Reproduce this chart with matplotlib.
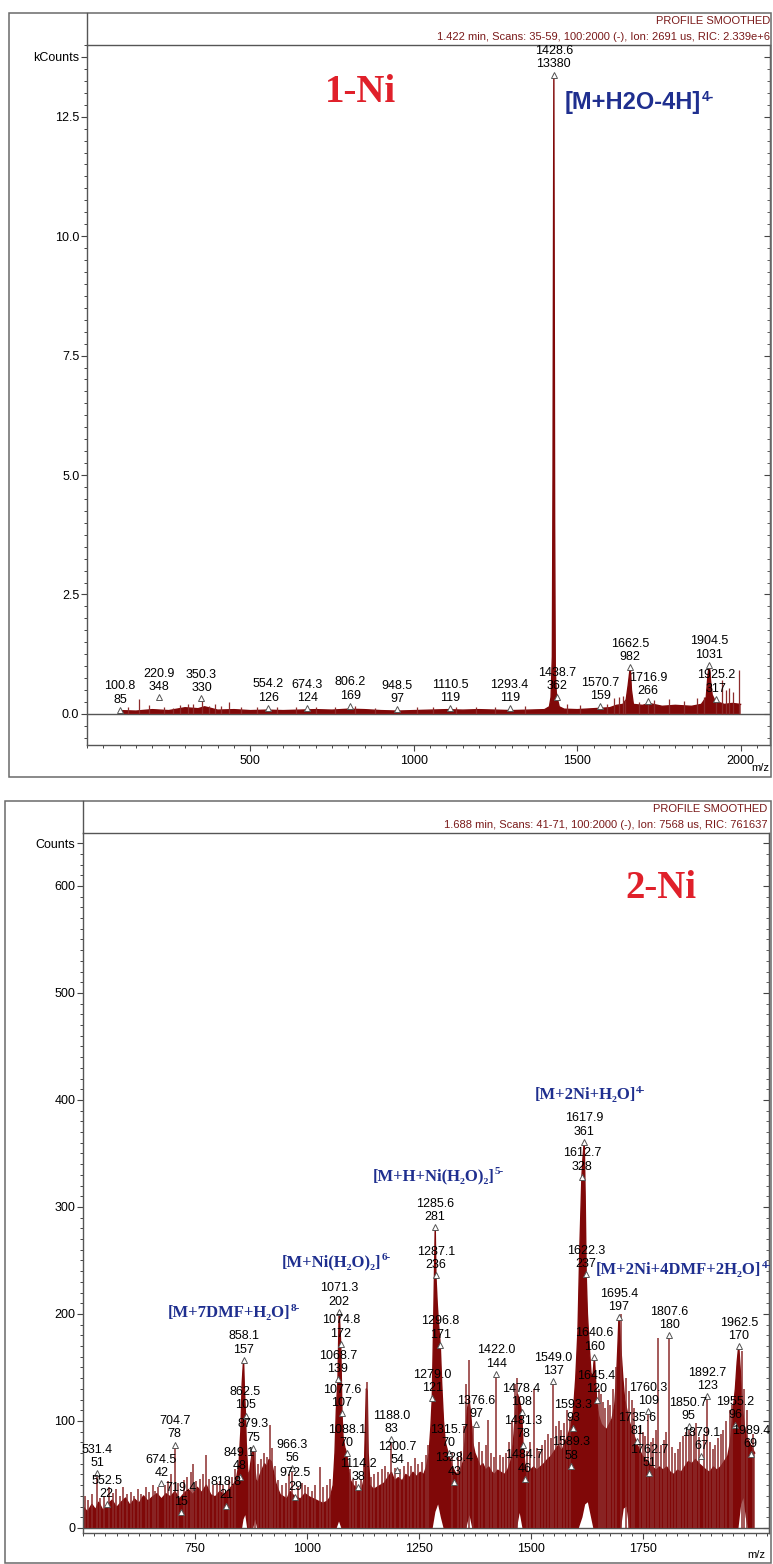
import numpy as np
import matplotlib.pyplot as plt
from matplotlib.patches import Rectangle
from matplotlib.lines import Line2D
from matplotlib.text import Annotation, Text
from matplotlib.ticker import FixedLocator, MultipleLocator

W, H = 773, 1564
SANS = ['Liberation Sans Narrow', 'Liberation Sans', 'DejaVu Sans']
SERIF = ['Liberation Serif', 'DejaVu Serif']
SPEC = '#800808'
SPIKE = '#8c2c2c'
HEAD = '#7a1a1a'
BLUE = '#1f2f8f'

# ---- 1-Ni spectrum (kCounts) ----
env1_mz = [100, 150, 200, 250, 300, 340, 360, 400, 450, 500, 550, 600, 650, 700, 750, 800,
           850, 900, 950, 1000, 1050, 1100, 1150, 1200, 1250, 1300, 1350, 1400, 1415, 1420,
           1424, 1426, 1428.6, 1431, 1433, 1436, 1440, 1445, 1460, 1500, 1550, 1600, 1620,
           1640, 1650, 1656, 1662.5, 1666, 1672, 1700, 1720, 1760, 1800, 1850, 1880, 1895,
           1900, 1904.5, 1908, 1913, 1920, 1930, 1950, 1975, 2000]
env1_k = [0.07, 0.06, 0.09, 0.07, 0.13, 0.11, 0.15, 0.08, 0.09, 0.07, 0.08, 0.07, 0.08, 0.09,
          0.08, 0.10, 0.09, 0.07, 0.06, 0.07, 0.08, 0.09, 0.08, 0.09, 0.08, 0.07, 0.08, 0.09,
          0.15, 0.35, 1.2, 5.0, 13.38, 4.0, 0.9, 0.45, 0.3, 0.15, 0.10, 0.09, 0.11, 0.13, 0.18,
          0.20, 0.30, 0.60, 0.98, 0.50, 0.20, 0.18, 0.22, 0.16, 0.18, 0.16, 0.20, 0.35, 0.80,
          1.03, 0.70, 0.40, 0.30, 0.25, 0.20, 0.22, 0.20]
spk1_mz = [125, 159, 190, 236, 262, 285, 310, 324, 352, 372, 391, 410, 434, 470, 520, 580, 640,
           700, 760, 820, 880, 1010, 1060, 1130, 1190, 1250, 1340, 1470, 1510, 1590, 1612, 1628,
           1640, 1645, 1690, 1716.9, 1735, 1780, 1826, 1866, 1888, 1925, 1942, 1955, 1965, 1978,
           1995]
spk1_k = [0.15, 0.31, 0.18, 0.15, 0.12, 0.18, 0.20, 0.20, 0.33, 0.17, 0.20, 0.16, 0.26, 0.15,
          0.14, 0.14, 0.14, 0.14, 0.15, 0.17, 0.13, 0.14, 0.15, 0.14, 0.15, 0.14, 0.16, 0.20,
          0.18, 0.20, 0.33, 0.36, 0.38, 0.30, 0.25, 0.28, 0.30, 0.32, 0.28, 0.33, 0.35, 0.35,
          0.72, 0.50, 0.55, 0.45, 0.92]
lab1_mz = [100.8, 220.9, 350.3, 554.2, 674.3, 806.2, 948.5, 1110.5, 1293.4, 1428.6, 1438.7,
           1570.7, 1662.5, 1716.9, 1904.5, 1925.2]
lab1_counts = [85, 348, 330, 126, 124, 169, 97, 119, 119, 13380, 362, 159, 982, 266, 1031, 317]

# ---- 2-Ni spectrum (Counts) ----
env2_mz = [500, 510, 520, 528, 535, 545, 555, 565, 575, 585, 595, 605, 615, 625, 635, 645, 655,
           665, 675, 685, 695, 705, 715, 725, 735, 745, 755, 765, 775, 785, 795, 805, 815, 825,
           835, 842, 848, 852, 855, 858.1, 860, 862.5, 864, 867, 870, 874, 879.3, 882, 886, 890,
           895, 900, 905, 910, 915, 920, 925, 930, 935, 940, 948, 955, 962, 968, 975, 985, 995,
           1005, 1015, 1025, 1035, 1045, 1052, 1058, 1062, 1065, 1068.7, 1071.3, 1074.8, 1077.6,
           1080, 1084, 1088.1, 1092, 1097, 1103, 1110, 1116, 1122, 1127, 1130, 1132, 1134, 1136,
           1140, 1148, 1156, 1164, 1172, 1180, 1188, 1195, 1203, 1212, 1220, 1228, 1236, 1244,
           1252, 1260, 1266, 1272, 1276, 1279.0, 1282, 1285.6, 1287.1, 1290, 1293, 1296.8, 1300,
           1304, 1308, 1313, 1318, 1324, 1330, 1336, 1342, 1348, 1353, 1357, 1361, 1365, 1369,
           1374, 1380, 1386, 1392, 1398, 1405, 1412, 1418, 1425, 1432, 1440, 1447, 1454, 1460,
           1465, 1469, 1473, 1478.4, 1481.3, 1486, 1492, 1498, 1505, 1512, 1520, 1528, 1536,
           1544, 1552, 1560, 1568, 1575, 1582, 1588, 1594, 1599, 1604, 1608, 1612.7, 1615,
           1617.9, 1620, 1622.3, 1625, 1629, 1633, 1637, 1640.6, 1645.4, 1650, 1656, 1662, 1668,
           1674, 1680, 1686, 1690, 1693, 1695.4, 1700, 1704, 1708, 1713, 1718, 1724, 1730, 1736,
           1742, 1748, 1755, 1762, 1770, 1778, 1786, 1794, 1802, 1810, 1818, 1826, 1834, 1842,
           1850, 1858, 1866, 1874, 1882, 1890, 1898, 1906, 1914, 1922, 1930, 1938, 1944, 1950,
           1955, 1959, 1962.5, 1967, 1971, 1975, 1980, 1986, 1992, 1998]
env2_c = [20, 15, 22, 17, 24, 16, 22, 26, 19, 24, 28, 21, 27, 23, 30, 25, 29, 32, 27, 32, 29,
          34, 27, 32, 36, 31, 38, 33, 40, 31, 29, 34, 31, 36, 40, 45, 60, 90, 135, 157, 130, 105,
          80, 55, 45, 60, 75, 60, 45, 42, 50, 55, 60, 57, 64, 62, 52, 42, 36, 31, 29, 27, 34, 31,
          29, 27, 32, 29, 27, 25, 23, 25, 29, 40, 70, 110, 139, 202, 172, 107, 85, 75, 70, 55, 44,
          40, 37, 34, 36, 46, 95, 130, 128, 70, 40, 36, 38, 40, 42, 47, 52, 44, 47, 44, 50, 47,
          52, 48, 52, 50, 57, 70, 95, 121, 190, 281, 236, 210, 190, 171, 135, 100, 80, 72, 65, 57,
          52, 50, 54, 62, 85, 110, 120, 105, 80, 70, 64, 57, 60, 54, 57, 52, 50, 54, 52, 50, 54,
          62, 80, 110, 125, 120, 108, 78, 57, 52, 54, 57, 54, 57, 60, 64, 67, 72, 77, 72, 80, 87,
          95, 110, 140, 185, 260, 328, 345, 361, 310, 237, 200, 170, 145, 140, 160, 120, 105, 97,
          94, 92, 97, 102, 115, 140, 170, 197, 165, 140, 120, 110, 100, 92, 85, 78, 72, 67, 64,
          60, 57, 54, 57, 54, 57, 52, 50, 54, 52, 57, 62, 60, 64, 60, 57, 54, 52, 57, 54, 57, 62,
          67, 80, 110, 130, 155, 170, 140, 110, 95, 85, 80, 75, 70]
# floor of the trace, lifted under the strongest peaks
flr2_mz = [500, 855, 858, 862, 866, 880, 884, 888, 1066, 1071, 1076, 1280, 1286, 1292, 1298,
           1304, 1355, 1362, 1368, 1468, 1474, 1480, 1606, 1614, 1620, 1626, 1632, 1638, 1700,
           1706, 1712, 1718, 1962, 1968, 1973, 1978, 1983, 1998]
flr2_c = [0, 0, 8, 12, 0, 0, 8, 0, 0, 6, 0, 0, 15, 22, 10, 0, 0, 12, 0, 0, 14, 0, 0, 10, 22, 24,
          12, 0, 0, 18, 20, 0, 0, 22, 28, 10, 0, 0]
spk2_mz = [505, 512, 520, 531.4, 538, 547, 558, 566, 574, 582, 590, 598, 606, 614, 622, 630,
           640, 648, 656, 661, 668, 682, 690, 697, 704.7, 712, 726, 733, 740, 746, 752, 760, 768,
           775, 782, 790, 798, 805, 812, 825, 832, 840, 870, 876, 884, 890, 898, 904, 910, 917,
           922, 928, 936, 944, 952, 960, 966.3, 980, 988, 995, 1002, 1010, 1018, 1029, 1036,
           1044, 1052, 1095, 1102, 1108, 1120, 1126, 1133, 1142, 1150, 1158, 1166, 1174, 1181,
           1188.0, 1195, 1208, 1216, 1224, 1232, 1240, 1248, 1256, 1264, 1270, 1322, 1336, 1342,
           1349, 1355, 1362, 1370, 1384, 1391, 1398, 1404, 1411, 1417, 1422.0, 1430, 1437, 1444,
           1450, 1456, 1463, 1468, 1490, 1496, 1505, 1512, 1518, 1524, 1530, 1537, 1543, 1549.0,
           1555, 1561, 1567, 1573, 1580, 1586, 1650, 1655, 1660, 1665, 1670, 1676, 1682, 1688,
           1699, 1712, 1718, 1724, 1730, 1742, 1748, 1754, 1760.3, 1766, 1772, 1777, 1783, 1790,
           1796, 1801, 1807.6, 1814, 1820, 1826, 1832, 1838, 1844, 1850.7, 1856, 1862, 1867,
           1873, 1886, 1892.7, 1898, 1904, 1910, 1916, 1922, 1928, 1935, 1942, 1948, 1969, 1975,
           1982, 1995]
spk2_c = [30, 26, 32, 51, 28, 30, 38, 33, 36, 30, 38, 32, 34, 30, 36, 32, 38, 34, 40, 35, 38,
          40, 44, 50, 78, 42, 45, 48, 52, 60, 44, 46, 50, 68, 46, 40, 42, 44, 40, 45, 48, 55, 52,
          70, 72, 60, 64, 70, 66, 96, 75, 58, 45, 40, 42, 50, 56, 38, 42, 40, 38, 35, 40, 57, 38,
          40, 46, 55, 46, 44, 46, 60, 136, 48, 50, 52, 55, 58, 52, 83, 56, 55, 58, 62, 58, 65, 60,
          62, 68, 78, 70, 66, 72, 95, 135, 157, 95, 80, 72, 78, 101, 70, 66, 144, 68, 66, 70, 80,
          100, 135, 140, 72, 80, 130, 75, 72, 78, 82, 88, 84, 137, 95, 100, 92, 98, 110, 104, 130,
          125, 118, 112, 120, 115, 130, 150, 200, 140, 128, 120, 112, 95, 90, 86, 109, 80, 84, 92,
          178, 78, 82, 90, 180, 76, 70, 74, 80, 86, 90, 95, 88, 92, 98, 85, 88, 123, 80, 74, 78,
          84, 88, 92, 100, 110, 115, 165, 130, 110, 88]
lab2_mz = [531.4, 552.5, 674.5, 704.7, 719.4, 818.8, 849.1, 858.1, 862.5, 879.3, 966.3, 972.5,
           1071.3, 1074.8, 1068.7, 1077.6, 1088.1, 1114.2, 1188.0, 1200.7, 1285.6, 1287.1,
           1296.8, 1279.0, 1315.7, 1328.4, 1376.6, 1422.0, 1478.4, 1481.3, 1484.7, 1549.0,
           1593.3, 1589.3, 1617.9, 1612.7, 1622.3, 1640.6, 1645.4, 1695.4, 1735.6, 1760.3,
           1762.7, 1807.6, 1850.7, 1879.1, 1892.7, 1962.5, 1955.2, 1989.4]
lab2_counts = [51, 22, 42, 78, 15, 21, 48, 157, 105, 75, 56, 29, 202, 172, 139, 107, 70, 38, 83,
               54, 281, 236, 171, 121, 70, 43, 97, 144, 108, 78, 46, 137, 93, 58, 361, 328, 237,
               160, 120, 197, 81, 109, 51, 180, 95, 67, 123, 170, 96, 69]

ions = ['[M+7DMF+H₂O]', '[M+Ni(H₂O)₂]', '[M+H+Ni(H₂O)₂]', '[M+2Ni+H₂O]', '[M+2Ni+4DMF+2H₂O]']
charges = ['8-', '6-', '5-', '4-', '4-']


def fx(px):
    return px / W


def fy(py):
    return 1 - py / H


def ftext(px, py, s, **kw):
    return fig.text(fx(px), fy(py), s, **kw)


def ion_label(px, py, s, q, size, qsize, **kw):
    # ion formula with its charge at the upper right corner
    base = Text(fx(px), fy(py), s, ha='left', va='center', fontsize=size,
                transform=fig.transFigure, **kw)
    fig.add_artist(base)
    fig.add_artist(Annotation(q, xy=(1.0, 0.78), xycoords=base, ha='left', va='center',
                              fontsize=qsize, annotation_clip=False, **kw))


fig = plt.figure(figsize=(W / 100, H / 100), dpi=100)


def frame(x0, y0, x1, y1, xa, ya):
    # outer box plus the vertical rule that closes the header strip
    fig.add_artist(Rectangle((fx(x0), fy(y1)), fx(x1) - fx(x0), fy(y0) - fy(y1),
                             transform=fig.transFigure, fill=False, ec='#6a6a6a', lw=1.1))
    fig.add_artist(Line2D([fx(xa), fx(xa)], [fy(y0), fy(ya)], transform=fig.transFigure,
                          color='#555555', lw=1.0))


def style_axes(ax, yt, ylab, ymin_step, xt, xmin_step):
    for s in ax.spines.values():
        s.set_color('#555555')
        s.set_linewidth(1.0)
    ax.yaxis.set_major_locator(FixedLocator(yt))
    ax.set_yticklabels(ylab)
    ax.yaxis.set_minor_locator(MultipleLocator(ymin_step))
    ax.xaxis.set_major_locator(FixedLocator(xt))
    ax.set_xticklabels([str(v) for v in xt])
    ax.xaxis.set_minor_locator(MultipleLocator(xmin_step))
    ax.tick_params(which='major', length=4, width=0.8, color='#444444', pad=1.5,
                   labelsize=9)
    ax.tick_params(axis='x', which='major', pad=3)
    ax.tick_params(which='minor', length=2.5, width=0.7, color='#444444')
    for t in ax.get_xticklabels() + ax.get_yticklabels():
        t.set_family(SANS)
    ax.axhline(0, color='#555555', lw=1.0, zorder=1)
    sec = ax.secondary_yaxis('right')
    sec.yaxis.set_major_locator(FixedLocator(yt))
    sec.yaxis.set_minor_locator(MultipleLocator(ymin_step))
    sec.tick_params(which='both', direction='in', labelright=False, color='#444444')
    sec.tick_params(which='major', length=4)
    sec.tick_params(which='minor', length=2.5)
    sec.spines['right'].set_color('#555555')


def draw_labels(ax, mzs, vals, scale):
    for m, c in zip(mzs, vals):
        y = c / scale
        ax.plot(m, y, marker='^', ms=4.5, mfc='white', mec='#555555', mew=0.7, zorder=4)
        ax.annotate(f'{m:.1f}\n{c}', xy=(m, y), xytext=(0, 3), textcoords='offset points',
                    ha='center', va='bottom', fontsize=9, family=SANS, linespacing=1.15,
                    zorder=5)


# ---------------- panel 1 ----------------
frame(9, 13, 771, 777, 87, 45)
ax1 = fig.add_axes([fx(87), fy(745), fx(770) - fx(87), fy(45) - fy(745)])
ax1.set_xlim(0, 2090)
ax1.set_ylim(-0.65, 14.0)
style_axes(ax1, [0, 2.5, 5, 7.5, 10, 12.5, 13.75],
           ['0.0', '2.5', '5.0', '7.5', '10.0', '12.5', 'kCounts'], 0.25,
           [500, 1000, 1500, 2000], 50)
ax1.fill(np.r_[env1_mz, env1_mz[-1], env1_mz[0]], np.r_[env1_k, 0, 0], color=SPEC, lw=0,
         zorder=2)
ax1.plot(env1_mz, env1_k, color=SPEC, lw=1.0, zorder=2)
ax1.vlines(spk1_mz, 0, spk1_k, color=SPIKE, lw=0.9, zorder=2)
draw_labels(ax1, lab1_mz, lab1_counts, 1000)

ftext(770, 21, 'PROFILE SMOOTHED', ha='right', va='center', fontsize=8, color=HEAD,
      family=SANS)
ftext(770, 37, '1.422 min, Scans: 35-59, 100:2000 (-), Ion: 2691 us, RIC: 2.339e+6',
      ha='right', va='center', fontsize=8, color=HEAD, family=SANS)
ftext(361, 92, '1-Ni', ha='center', va='center', fontsize=28, color='#e0202a',
      weight='bold', family=SERIF)
ion_label(565, 103, '[M+H2O-4H]', '4-', 17, 10, color=BLUE, weight='bold', family=SANS)
ftext(760, 768, 'm/z', ha='center', va='center', fontsize=8, family=SANS)

# ---------------- panel 2 ----------------
frame(5, 801, 771, 1563, 83, 833)
ax2 = fig.add_axes([fx(83), fy(1533), fx(769) - fx(83), fy(833) - fy(1533)])
ax2.set_xlim(500, 2030)
ax2.set_ylim(-4.7, 649.5)
style_axes(ax2, [0, 100, 200, 300, 400, 500, 600, 640],
           ['0', '100', '200', '300', '400', '500', '600', 'Counts'], 10,
           [750, 1000, 1250, 1500, 1750], 25)
ax2.fill(np.r_[env2_mz, flr2_mz[::-1]], np.r_[env2_c, flr2_c[::-1]], color=SPEC, lw=0,
         zorder=2)
ax2.plot(env2_mz, env2_c, color=SPEC, lw=1.0, zorder=2)
ax2.vlines(spk2_mz, 0, spk2_c, color=SPIKE, lw=1.1, zorder=2)
draw_labels(ax2, lab2_mz, lab2_counts, 1)

ftext(767, 809, 'PROFILE SMOOTHED', ha='right', va='center', fontsize=8, color=HEAD,
      family=SANS)
ftext(767, 825, '1.688 min, Scans: 41-71, 100:2000 (-), Ion: 7568 us, RIC: 761637',
      ha='right', va='center', fontsize=8, color=HEAD, family=SANS)
ftext(661, 888, '2-Ni', ha='center', va='center', fontsize=28, color='#e0202a',
      weight='bold', family=SERIF)

ion_xy = [(168, 1313), (282, 1262), (373, 1176), (535, 1095), (596, 1270)]
for s, q, (px, py) in zip(ions, charges, ion_xy):
    ion_label(px, py, s, q, 12, 8, color=BLUE, weight='bold', family=SERIF)
ftext(756, 1555, 'm/z', ha='center', va='center', fontsize=8, family=SANS)

fig.savefig('out.png', dpi=100, facecolor='white')
